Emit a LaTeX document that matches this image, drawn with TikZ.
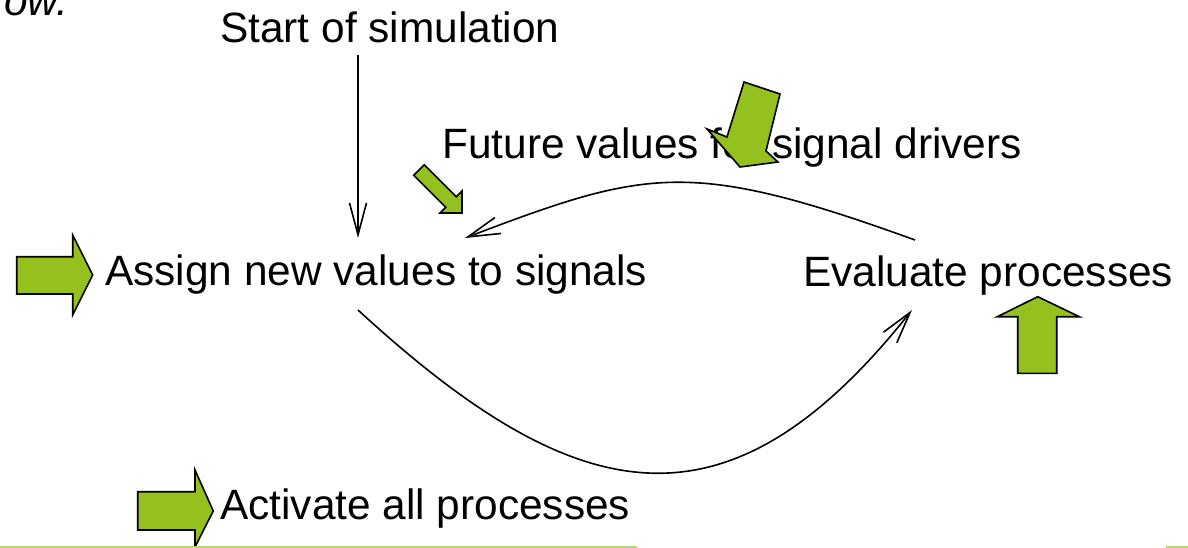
\documentclass[tikz,border=0pt]{standalone}
\usepackage{fontspec}
\setmainfont{Liberation Sans}
\usetikzlibrary{arrows.meta}
\definecolor{limegreen}{RGB}{149,193,31}
\definecolor{paleline}{RGB}{181,211,122}
\begin{document}
\begin{tikzpicture}[x=1pt,y=-1pt,
  lbl/.style={inner sep=0pt, anchor=base west, font=\fontsize{42.4}{50}\selectfont},
  conn/.style={line width=1.6pt, -{Straight Barb[length=32pt,width=17pt,line width=1.6pt]}},
  garrow/.style={fill=limegreen, draw=black, line width=1.6pt, line join=miter}]
\useasboundingbox (0,0) rectangle (1188,548);
\clip (0,0) rectangle (1188,548);

% texts
\node[lbl, anchor=base east, font=\fontsize{42.4}{50}\selectfont\itshape] (ow) at (68,16) {ow.};
\node[lbl] (start) at (220,43) {Start of simulation};
\node[lbl] (future) at (442,159) {Future values for signal drivers};
\node[lbl] (assign) at (105,285) {Assign new values to signals};
\node[lbl] (evaluate) at (803,286) {Evaluate processes};
\node[lbl] (activate) at (220,519) {Activate all processes};

% connector end points
\coordinate (s0) at (358,55);
\coordinate (s1) at (358,238);
\coordinate (e0) at (915,240);
\coordinate (a1) at (465,238);
\coordinate (a0) at (358,310);
\coordinate (e1) at (912,310);

\draw[conn] (s0) -- (s1);
\draw[conn] (e0) .. controls (689.4,158.4) and (647.3,168.8) .. (a1);
\draw[conn] (a0) .. controls (577.8,512) and (727.9,541.7) .. (e1);

% green block arrows
\draw[garrow] (16.7,256.7) -- (72.7,256.7) -- (72.7,235) -- (92.7,275) -- (72.7,315) -- (72.7,294) -- (16.7,294) -- cycle;
\draw[garrow] (137.7,491.7) -- (195,491.7) -- (195,470) -- (213.3,511) -- (195,547) -- (195,530) -- (137.7,530) -- cycle;
\draw[garrow] (413.7,175.3) -- (424.3,164.7) -- (456.3,196.7) -- (462,191) -- (462,213) -- (440,213) -- (445.7,207.3) -- cycle;
\draw[garrow] (744,82) -- (780,94) -- (766,151) -- (778,162) -- (740,167) -- (707,129) -- (727,137) -- cycle;
\draw[garrow] (1017.7,373.3) -- (1017.7,316.7) -- (997.3,316.7) -- (1037.7,296.7) -- (1079.3,316.7) -- (1056.7,316.7) -- (1056.7,373.3) -- cycle;

% bottom rule pieces
\draw[paleline, line width=2pt] (0,547) -- (637,547);
\draw[paleline, line width=2pt] (1166,547) -- (1188,547);
\end{tikzpicture}
\end{document}
